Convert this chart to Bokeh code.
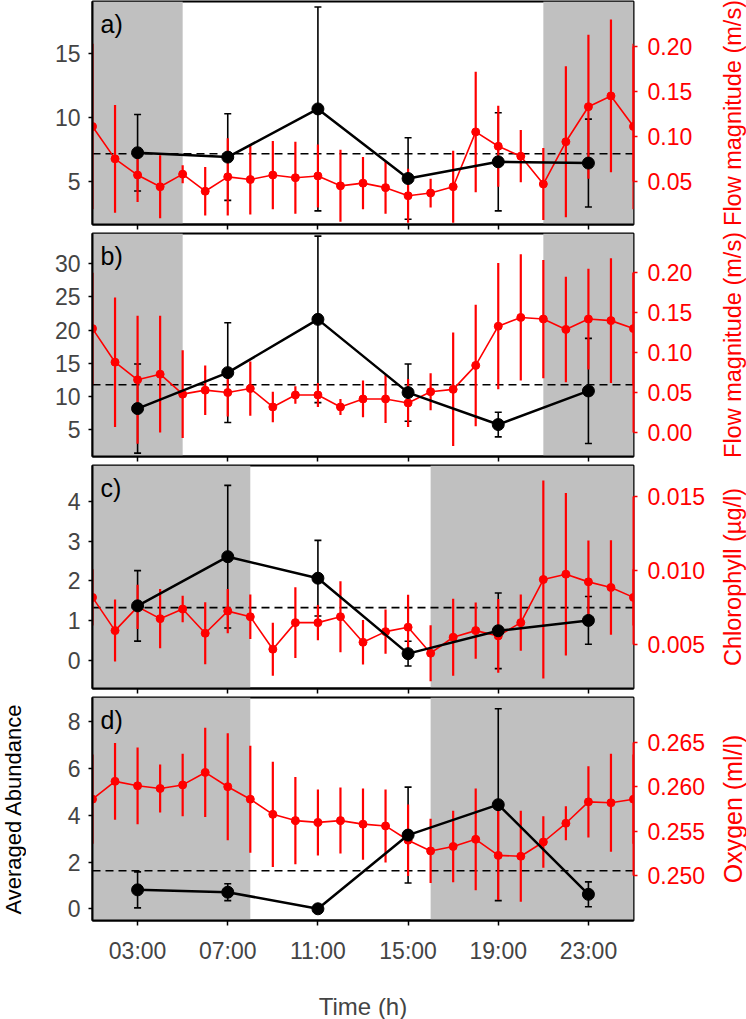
import numpy as np
from bokeh.plotting import figure
from bokeh.models import (Range1d, LinearAxis, FixedTicker, PrintfTickFormatter,
                          BoxAnnotation, Span, Label, Whisker, TeeHead, ColumnDataSource)
from bokeh.layouts import column, row
from bokeh.embed import file_html
from bokeh.resources import INLINE

# ---------------- data ----------------
hours = list(range(1, 26))                 # hourly environmental records (01:00 .. 01:00 next day)
sample_hours = [3, 7, 11, 15, 19, 23]      # abundance samples
time_labels = ["03:00", "07:00", "11:00", "15:00", "19:00", "23:00"]

# night periods (shaded)
nights_ab = [(1, 5), (21, 25)]
nights_cd = [(1, 8), (16, 25)]

# panel a
abund_a = [7.23, 6.89, 10.67, 5.21, 6.52, 6.42]
abund_a_err = [3.0, 3.4, 8.0, 3.2, 3.85, 3.45]
flow_a = [0.111, 0.075, 0.057, 0.044, 0.058, 0.039, 0.055, 0.052, 0.057, 0.054, 0.056, 0.045, 0.048,
          0.043, 0.034, 0.037, 0.044, 0.105, 0.089, 0.078, 0.047, 0.094, 0.133, 0.145, 0.111]
flow_a_err = [0.092, 0.060, 0.030, 0.035, 0.010, 0.027, 0.043, 0.039, 0.038, 0.040, 0.035, 0.040, 0.029,
              0.029, 0.030, 0.016, 0.040, 0.067, 0.045, 0.029, 0.040, 0.084, 0.080, 0.085, 0.092]

# panel b
abund_b = [8.2, 13.6, 21.6, 10.6, 5.8, 10.85]
abund_b_err = [6.7, 7.5, 12.5, 4.3, 1.85, 7.9]
flow_b = [0.130, 0.088, 0.066, 0.073, 0.048, 0.053, 0.050, 0.055, 0.032, 0.047, 0.047, 0.032, 0.042,
          0.042, 0.037, 0.051, 0.054, 0.084, 0.133, 0.144, 0.142, 0.129, 0.142, 0.140, 0.130]
flow_b_err = [0.070, 0.081, 0.080, 0.073, 0.055, 0.031, 0.030, 0.034, 0.019, 0.011, 0.015, 0.010, 0.023,
              0.030, 0.030, 0.023, 0.071, 0.076, 0.079, 0.079, 0.074, 0.066, 0.063, 0.078, 0.070]

# panel c
abund_c = [1.375, 2.61, 2.07, 0.175, 0.75, 1.01]
abund_c_err = [0.885, 1.79, 0.95, 0.31, 0.95, 0.6]
chl_c = [0.00817, 0.00592, 0.00753, 0.00673, 0.00738, 0.00574, 0.00724, 0.00686, 0.00466, 0.00646,
         0.00646, 0.00686, 0.00513, 0.00585, 0.00615, 0.00439, 0.00547, 0.00592, 0.00556, 0.00646,
         0.00938, 0.00974, 0.00922, 0.00884, 0.00817]
chl_c_err = [0.0019, 0.0021, 0.0015, 0.0020, 0.0009, 0.0021, 0.0015, 0.0015, 0.0018, 0.0024,
             0.0012, 0.0024, 0.0015, 0.0015, 0.0022, 0.0019, 0.0026, 0.0019, 0.0025, 0.0019,
             0.0067, 0.0055, 0.0028, 0.0032, 0.0019]

# panel d
abund_d = [0.81, 0.71, 0.0, 3.15, 4.45, 0.62]
abund_d_err = [0.77, 0.36, 0.0, 2.05, 4.1, 0.53]
oxy_d = [0.2586, 0.2606, 0.2601, 0.2598, 0.2602, 0.2616, 0.2600, 0.2586, 0.2569, 0.2562, 0.2560,
         0.2562, 0.2558, 0.2556, 0.2540, 0.2528, 0.2533, 0.2541, 0.2523, 0.2522, 0.2538, 0.2559,
         0.2583, 0.2582, 0.2586]
oxy_d_err = [0.0050, 0.0043, 0.0043, 0.0027, 0.0035, 0.0050, 0.0060, 0.0060, 0.0059, 0.0049, 0.0037,
             0.0037, 0.0040, 0.0041, 0.0040, 0.0036, 0.0040, 0.0057, 0.0050, 0.0051, 0.0029, 0.0019,
             0.0040, 0.0055, 0.0050]

left_ticks_a = [5, 10, 15]
left_ticks_b = [5, 10, 15, 20, 25, 30]
left_ticks_c = [0, 1, 2, 3, 4]
left_ticks_d = [0, 2, 4, 6, 8]
right_ticks_a = [0.05, 0.10, 0.15, 0.20]
right_ticks_b = [0.00, 0.05, 0.10, 0.15, 0.20]
right_ticks_c = [0.005, 0.010, 0.015]
right_ticks_d = [0.250, 0.255, 0.260, 0.265]

left_title = "Averaged Abundance"
x_title = "Time (h)"
right_titles = ["Flow magnitude (m/s)", "Flow magnitude (m/s)", "Chlorophyll (\u00b5g/l)", "Oxygen (ml/l)"]
right_title_sizes = ["23.5px", "23.5px", "23.5px", "25px"]

FONT = "Liberation Sans"
RED = "#ff0000"
GRAY = "#c0c0c0"
TICK_SIZE = "23px"

# layout constants (pixels)
FRAME_W, FRAME_H = 541, 223
LSTRIP_W, RSTRIP_W = 26, 28
BORDER_L, BORDER_R, BORDER_T, BORDER_B, BORDER_B_LAST = 66, 85, 1, 8, 97


def make_panel(tag, abund, abund_err, env, env_err, left_rng, right_rng, left_ticks,
               right_ticks, right_fmt, nights, bottom):
    p = figure(frame_width=FRAME_W, frame_height=FRAME_H, output_backend="svg",
               toolbar_location=None, x_range=Range1d(1, 25), y_range=Range1d(*left_rng),
               min_border_left=BORDER_L, min_border_right=BORDER_R, min_border_top=BORDER_T,
               min_border_bottom=BORDER_B_LAST if bottom else BORDER_B)
    p.xgrid.visible = False
    p.ygrid.visible = False
    p.outline_line_color = "black"
    p.outline_line_width = 2
    p.background_fill_color = "white"
    p.border_fill_color = "white"

    for (a, b) in nights:
        p.add_layout(BoxAnnotation(left=a, right=b, fill_color=GRAY, fill_alpha=1.0,
                                   line_color=None, level="underlay"))

    # black error bars (under everything else)
    lo = [v - e for v, e in zip(abund, abund_err)]
    hi = [v + e for v, e in zip(abund, abund_err)]
    bsrc = ColumnDataSource(dict(x=sample_hours, y=abund, lo=lo, hi=hi))
    p.add_layout(Whisker(base="x", upper="hi", lower="lo", source=bsrc, level="underlay",
                         line_color="black", line_width=1.6,
                         upper_head=TeeHead(size=7, line_color="black", line_width=1.6),
                         lower_head=TeeHead(size=7, line_color="black", line_width=1.6)))

    # mean abundance dashed line
    p.add_layout(Span(location=float(np.mean(abund)), dimension="width", line_color="black",
                      line_width=1.6, line_dash="8 5", level="underlay"))

    # environmental (red) series on right axis
    p.extra_y_ranges = {"env": Range1d(*right_rng)}
    elo = [v - e for v, e in zip(env, env_err)]
    ehi = [v + e for v, e in zip(env, env_err)]
    rsrc = ColumnDataSource(dict(x=hours, y=env, lo=elo, hi=ehi))
    p.segment(x0="x", x1="x", y0="lo", y1="hi", source=rsrc, y_range_name="env",
              line_color=RED, line_width=2.2)
    p.line("x", "y", source=rsrc, y_range_name="env", line_color=RED, line_width=1.6)
    p.scatter("x", "y", source=rsrc, y_range_name="env", size=8, fill_color=RED, line_color=RED)

    # abundance (black)
    p.line("x", "y", source=bsrc, line_color="black", line_width=2.5)
    p.scatter("x", "y", source=bsrc, size=12, fill_color="black", line_color="black")

    # x axis
    xa = p.xaxis[0]
    xa.ticker = FixedTicker(ticks=sample_hours)
    xa.minor_tick_line_color = None
    xa.major_tick_in = 0
    xa.major_tick_out = 5
    xa.major_tick_line_width = 1.5
    xa.axis_line_width = 2
    xa.major_label_text_font = FONT
    if bottom:
        xa.major_label_overrides = {h: lab for h, lab in zip(sample_hours, time_labels)}
        xa.major_label_text_font_size = TICK_SIZE
        xa.major_label_standoff = 12
        xa.axis_label = x_title
        xa.axis_label_text_font = FONT
        xa.axis_label_text_font_size = "24px"
        xa.axis_label_text_font_style = "normal"
        xa.axis_label_standoff = 26
    else:
        xa.major_label_overrides = {h: "" for h in sample_hours}
        xa.major_label_text_font_size = "1px"
        xa.major_label_standoff = 0

    # left axis
    ya = p.yaxis[0]
    ya.ticker = FixedTicker(ticks=left_ticks)
    ya.minor_tick_line_color = None
    ya.major_tick_in = 0
    ya.major_tick_out = 4
    ya.major_tick_line_width = 1.5
    ya.axis_line_width = 2
    ya.major_label_text_font = FONT
    ya.major_label_text_font_size = TICK_SIZE
    ya.major_label_standoff = 8

    # right axis
    ra = LinearAxis(y_range_name="env", ticker=FixedTicker(ticks=right_ticks),
                    formatter=PrintfTickFormatter(format=right_fmt),
                    bounds=(min(right_ticks), max(right_ticks)))
    ra.axis_line_color = RED
    ra.axis_line_width = 2
    ra.major_tick_line_color = RED
    ra.major_tick_line_width = 1.5
    ra.major_tick_in = 0
    ra.major_tick_out = 4
    ra.minor_tick_line_color = None
    ra.major_label_text_color = RED
    ra.major_label_text_font = FONT
    ra.major_label_text_font_size = TICK_SIZE
    ra.major_label_standoff = 10
    p.add_layout(ra, "right")

    p.add_layout(Label(x=1, y=left_rng[1], x_offset=8, y_offset=-8, text=tag,
                       text_font=FONT, text_font_size="25px", text_baseline="top",
                       text_color="black"))
    return p


pa = make_panel("a)", abund_a, abund_a_err, flow_a, flow_a_err, (1.6, 19.1), (0.002, 0.250),
                left_ticks_a, right_ticks_a, "%.2f", nights_ab, False)
pb = make_panel("b)", abund_b, abund_b_err, flow_b, flow_b_err, (1.0, 34.5), (-0.030, 0.249),
                left_ticks_b, right_ticks_b, "%.2f", nights_ab, False)
pc = make_panel("c)", abund_c, abund_c_err, chl_c, chl_c_err, (-0.7, 4.9), (0.002, 0.0171),
                left_ticks_c, right_ticks_c, "%.3f", nights_cd, False)
pd = make_panel("d)", abund_d, abund_d_err, oxy_d, oxy_d_err, (-0.5, 9.03), (0.245, 0.2700),
                left_ticks_d, right_ticks_d, "%.3f", nights_cd, True)

panel_h = BORDER_T + FRAME_H + BORDER_B
total_h = 3 * panel_h + BORDER_T + FRAME_H + BORDER_B_LAST


def make_strip(w):
    s = figure(width=w, height=total_h, output_backend="svg", toolbar_location=None,
               x_range=Range1d(0, w), y_range=Range1d(total_h, 0),
               min_border=0, outline_line_color=None)
    s.axis.visible = False
    s.grid.visible = False
    s.background_fill_color = "white"
    s.border_fill_color = "white"
    return s


# left strip: y-axis title of the abundance (shown at panel d)
lstrip = make_strip(LSTRIP_W)
lstrip.add_layout(Label(x=13, y=3 * panel_h + BORDER_T + FRAME_H / 2, text=left_title,
                        angle=np.pi / 2, text_align="center", text_baseline="middle",
                        text_font=FONT, text_font_size="22px", text_color="black"))

# right strip: red right-axis titles, reading bottom-to-top
rstrip = make_strip(RSTRIP_W)
for i, (t, fs) in enumerate(zip(right_titles, right_title_sizes)):
    rstrip.add_layout(Label(x=14, y=i * panel_h + BORDER_T + FRAME_H / 2, text=t,
                            angle=np.pi / 2, text_align="center", text_baseline="middle",
                            text_font=FONT, text_font_size=fs, text_color=RED))

layout = row(lstrip, column(pa, pb, pc, pd, spacing=0), rstrip, spacing=0)
open("out.html", "w").write(file_html(layout, INLINE))
